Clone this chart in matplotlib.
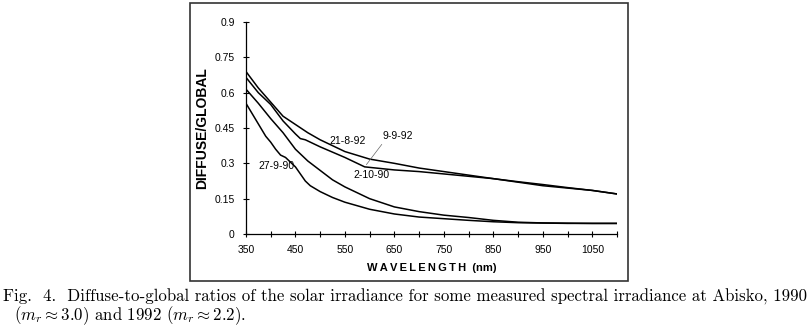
import matplotlib
matplotlib.use("Agg")
import matplotlib.pyplot as plt
from matplotlib.patches import Rectangle

# wavelength (nm) / diffuse-to-global ratio
nm_21_8_92 = [350, 375, 400, 425, 450, 475, 500, 550, 600, 650, 700, 750, 800, 850, 900, 950, 1000, 1050, 1100]
dg_21_8_92 = [0.69, 0.62, 0.56, 0.50, 0.465, 0.43, 0.40, 0.35, 0.318, 0.30, 0.28, 0.265, 0.25, 0.235, 0.22, 0.205, 0.195, 0.185, 0.17]

nm_9_9_92 = [350, 375, 400, 425, 450, 460, 470, 480, 500, 550, 590, 650, 700, 750, 800, 850, 900, 950, 1000, 1050, 1100]
dg_9_9_92 = [0.665, 0.60, 0.55, 0.48, 0.425, 0.405, 0.40, 0.39, 0.37, 0.325, 0.285, 0.272, 0.265, 0.255, 0.245, 0.235, 0.222, 0.21, 0.197, 0.185, 0.17]

nm_2_10_90 = [350, 375, 400, 425, 450, 475, 500, 525, 550, 600, 650, 700, 750, 800, 850, 900, 950, 1000, 1050, 1100]
dg_2_10_90 = [0.615, 0.555, 0.49, 0.43, 0.36, 0.31, 0.27, 0.23, 0.20, 0.15, 0.115, 0.095, 0.08, 0.07, 0.058, 0.05, 0.047, 0.046, 0.045, 0.045]

nm_27_9_90 = [350, 360, 370, 380, 390, 400, 410, 420, 430, 440, 450, 460, 470, 480, 500, 525, 550, 600, 650, 700, 750, 800, 850, 900, 1000, 1100]
dg_27_9_90 = [0.555, 0.52, 0.485, 0.45, 0.415, 0.39, 0.36, 0.335, 0.325, 0.305, 0.285, 0.255, 0.225, 0.205, 0.18, 0.155, 0.135, 0.105, 0.085, 0.072, 0.065, 0.058, 0.052, 0.048, 0.045, 0.045]

xticks = list(range(350, 1101, 50))
xlabels = [str(t) if (t - 350) % 100 == 0 else "" for t in xticks]
yticks = [0, 0.15, 0.3, 0.45, 0.6, 0.75, 0.9]
ylabels = ["0", "0.15", "0.3", "0.45", "0.6", "0.75", "0.9"]

plt.rcParams["mathtext.fontset"] = "cm"
sans = "Liberation Sans"

fig = plt.figure(figsize=(8.09, 3.27), dpi=100)
ax = fig.add_axes([0.304, 0.2844, 0.4587, 0.6483])

for xs, ys in [(nm_21_8_92, dg_21_8_92), (nm_9_9_92, dg_9_9_92),
               (nm_2_10_90, dg_2_10_90), (nm_27_9_90, dg_27_9_90)]:
    ax.plot(xs, ys, color="black", lw=1.1)

ax.set_xlim(350, 1100)
ax.set_ylim(0, 0.9)
ax.set_xticks(xticks)
ax.set_xticklabels(xlabels, fontfamily=sans, fontsize=7.5)
ax.set_yticks(yticks)
ax.set_yticklabels(ylabels, fontfamily=sans, fontsize=7.5)
ax.tick_params(direction="inout", length=4, width=0.8, pad=6)
ax.spines["top"].set_visible(False)
ax.spines["right"].set_visible(False)
for s in ("left", "bottom"):
    ax.spines[s].set_linewidth(0.9)

ax.set_xlabel("W\u2009A\u2009V\u2009E\u2009L\u2009E\u2009N\u2009G\u2009T\u2009H  (nm)",
              fontfamily=sans, fontweight="bold", fontsize=8, labelpad=6)
ax.set_ylabel("DIFFUSE/GLOBAL", fontfamily=sans, fontweight="bold", fontsize=10)
ax.yaxis.set_label_coords(-0.10, 0.5)

# curve labels
ax.text(555, 0.395, "21-8-92", fontfamily=sans, fontsize=7.5, ha="center", va="center")
ax.text(656, 0.415, "9-9-92", fontfamily=sans, fontsize=7.5, ha="center", va="center")
ax.annotate("", xy=(590, 0.285), xytext=(628, 0.39),
            arrowprops=dict(arrowstyle="-", lw=0.5, color="0.4"))
ax.text(604, 0.25, "2-10-90", fontfamily=sans, fontsize=7.5, ha="center", va="center")
ax.text(411, 0.29, "27-9-90", fontfamily=sans, fontsize=7.5, ha="center", va="center")

# outer box around the plot
fig.patches.append(Rectangle((190 / 809, 1 - 281 / 327), 438 / 809, 278 / 327,
                             transform=fig.transFigure, fill=False, lw=1.2, ec="0.2"))

caption = ("Fig.  4.  Diffuse-to-global ratios of the solar irradiance for some measured spectral irradiance at Abisko, 1990\n"
           r"  $(m_r \approx 3.0)$ and 1992 $(m_r \approx 2.2)$.")
fig.text(3 / 809, 1 - 308 / 327, caption, fontfamily="cmr10", fontsize=12.1,
         va="center", ha="left", linespacing=1.0)

fig.savefig("out.png", dpi=100)
